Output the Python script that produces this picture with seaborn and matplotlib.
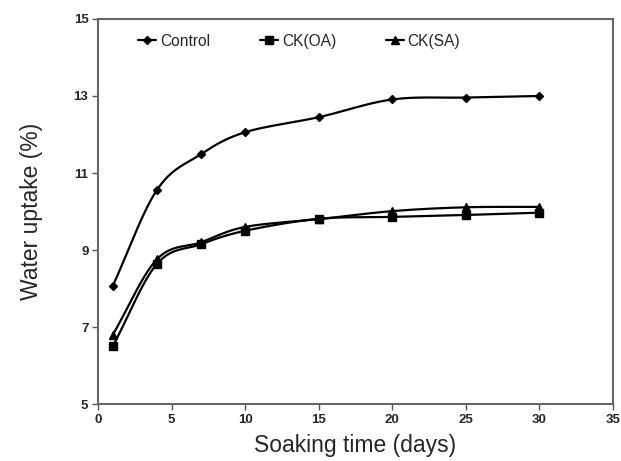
import numpy as np
import pandas as pd
import matplotlib
matplotlib.use("Agg")
import matplotlib.pyplot as plt
import seaborn as sns
from matplotlib.lines import Line2D

days = [1, 4, 7, 10, 15, 20, 25, 30]
control = [8.07, 10.56, 11.49, 12.06, 12.45, 12.91, 12.96, 13.0]
ck_oa = [6.5, 8.64, 9.15, 9.5, 9.81, 9.86, 9.91, 9.97]
ck_sa = [6.8, 8.76, 9.2, 9.6, 9.8, 10.01, 10.11, 10.12]
series_names = ["Control", "CK(OA)", "CK(SA)"]
markers = {"Control": "D", "CK(OA)": "s", "CK(SA)": "^"}
msizes = {"Control": 4, "CK(OA)": 6, "CK(SA)": 6}

sns.set_theme(style="white")
plt.rcParams["font.family"] = ["Liberation Sans", "DejaVu Sans"]


def catmull_rom(x, y, n=30):
    x = np.asarray(x, float)
    y = np.asarray(y, float)
    px = np.concatenate([[2 * x[0] - x[1]], x, [2 * x[-1] - x[-2]]])
    py = np.concatenate([[2 * y[0] - y[1]], y, [2 * y[-1] - y[-2]]])
    xs, ys = [], []
    t = np.linspace(0, 1, n, endpoint=False)
    for i in range(1, len(px) - 2):
        p0, p1, p2, p3 = [np.array([px[j], py[j]]) for j in range(i - 1, i + 3)]
        b1 = p1 + (p2 - p0) / 6.0
        b2 = p2 - (p3 - p1) / 6.0
        pts = ((1 - t) ** 3)[:, None] * p1 + (3 * (1 - t) ** 2 * t)[:, None] * b1 \
            + (3 * (1 - t) * t ** 2)[:, None] * b2 + (t ** 3)[:, None] * p2
        xs.append(pts[:, 0]); ys.append(pts[:, 1])
    xs.append([x[-1]]); ys.append([y[-1]])
    return np.concatenate(xs), np.concatenate(ys)


raw = pd.DataFrame({
    "day": days * 3,
    "uptake": control + ck_oa + ck_sa,
    "series": sum([[s] * len(days) for s in series_names], []),
})

smooth_rows = []
for name, vals in zip(series_names, [control, ck_oa, ck_sa]):
    sx, sy = catmull_rom(days, vals)
    smooth_rows.append(pd.DataFrame({"day": sx, "uptake": sy, "series": name}))
smooth = pd.concat(smooth_rows, ignore_index=True)

fig = plt.figure(figsize=(6.21, 4.61), dpi=100)
ax = fig.add_axes([0.158, 0.1236, 0.829, 0.8352])

for name in series_names:
    d = smooth[smooth.series == name]
    sns.lineplot(data=d, x="day", y="uptake", ax=ax, color="black", lw=1.6,
                 estimator=None, sort=False, legend=False)
    r = raw[raw.series == name]
    ax.plot(r["day"], r["uptake"], linestyle="none", marker=markers[name],
            ms=msizes[name], color="black", zorder=3)

ax.set_xlim(0, 35)
ax.set_ylim(5, 15)
ax.set_xticks(range(0, 36, 5))
ax.set_yticks([5, 7, 9, 11, 13, 15])
for lab in ax.get_xticklabels() + ax.get_yticklabels():
    lab.set_fontweight("bold")
    lab.set_fontsize(9.5)
ax.tick_params(axis="both", direction="out", length=4, width=1, color="#555555",
               bottom=True, left=True, pad=3)
for sp in ax.spines.values():
    sp.set_color("#666666")
    sp.set_linewidth(1.5)

ax.set_xlabel("Soaking time (days)", fontsize=16.5, labelpad=6)
ax.set_ylabel("Water uptake (%)", fontsize=16.5, labelpad=22)

handles = [Line2D([0], [0], color="black", lw=1.6, marker=markers[n], ms=msizes[n])
           for n in series_names]
ax.legend(handles, series_names, ncol=3, loc="upper left", bbox_to_anchor=(0.051, 0.998),
          frameon=False, fontsize=11.2, handlelength=1.15, handletextpad=0.25,
          columnspacing=3.2)

fig.savefig("out.png", dpi=100)
